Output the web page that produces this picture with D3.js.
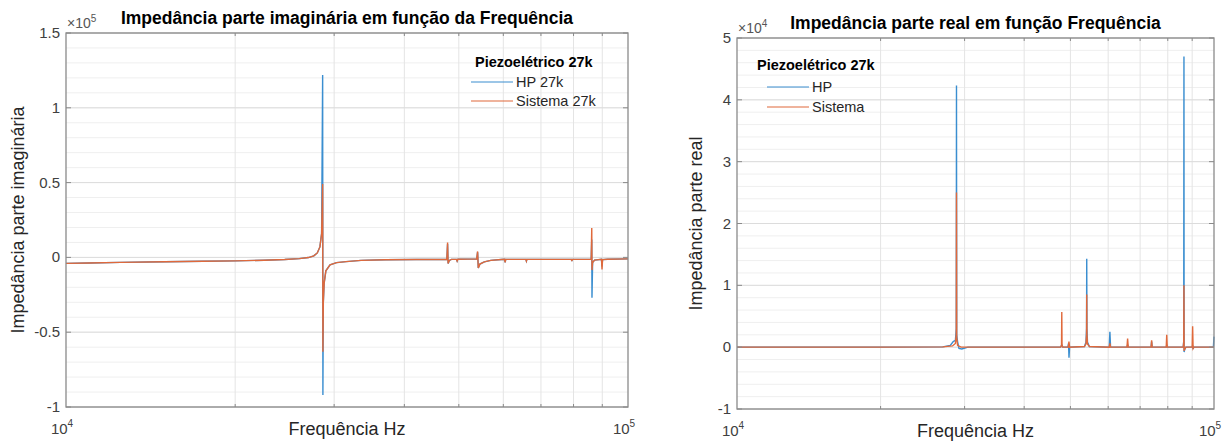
<!DOCTYPE html>
<meta charset="utf-8">
<style>
body { margin: 0; background: #fff; }
text { font-family: "Liberation Sans", Arial, sans-serif; }
</style>
<body>
<script src="https://cdn.jsdelivr.net/npm/d3@7"></script>
<script>

// ---- data (frequency Hz, impedance ohm) ----
var imagHP = [
  [10000,-4000],[11000,-3700],[12500,-3300],[15000,-2900],[17500,-2600],[20000,-2300],
  [22500,-1900],[24500,-1400],[26000,-800],[27000,-100],[27600,1000],[28000,3000],
  [28300,7000],[28500,16000],[28620,122000],[28650,-92000],[28700,-30000],[28800,-17000],
  [29000,-9000],[29500,-5000],[30300,-3500],[31500,-2800],[33500,-2000],[37000,-1600],
  [42000,-1400],[47600,-1300],[47750,9000],[47850,-4000],[48100,-2000],[48500,-1300],
  [49500,-1300],[49650,-2500],[49800,-1200],[53800,-1000],[54000,3500],[54150,-7000],
  [54500,-4500],[55500,-3000],[57000,-2000],[59500,-1400],[60300,-1300],[60450,-3300],
  [60600,-1300],[65800,-1300],[65950,-2500],[66100,-1300],[79300,-1300],[79450,-2500],
  [79600,-1300],[86000,-1300],[86200,12000],[86280,-27000],[86500,-3500],[87200,-1800],
  [89700,-1200],[89900,-6000],[90100,-1500],[92000,-1200],[100000,-1000]
];
var imagSistema = [
  [10000,-4000],[11000,-3700],[12500,-3300],[15000,-2900],[17500,-2600],[20000,-2300],
  [22500,-1900],[24500,-1400],[26000,-800],[27000,-100],[27600,1000],[28000,3000],
  [28300,7000],[28500,16000],[28620,49000],[28650,-63000],[28700,-30000],[28800,-17000],
  [29000,-9000],[29500,-5000],[30300,-3500],[31500,-2800],[33500,-2000],[37000,-1600],
  [42000,-1400],[47600,-1300],[47750,10000],[47850,-4000],[48100,-2000],[48500,-1300],
  [49500,-1300],[49650,-2500],[49800,-1200],[53800,-1000],[54000,4000],[54150,-7000],
  [54500,-4500],[55500,-3000],[57000,-2000],[59500,-1400],[60300,-1300],[60450,-3300],
  [60600,-1300],[65800,-1300],[65950,-2500],[66100,-1300],[79300,-1300],[79450,-2500],
  [79600,-1300],[86000,-1300],[86200,19600],[86280,-8500],[86500,-3500],[87200,-1800],
  [89700,-1200],[89900,-8000],[90100,-1500],[92000,-1200],[100000,-1000]
];
var realHP = [
  [10000,0],[20000,0],[27000,50],[28000,300],[28400,900],[28700,1100],[28820,3000],
  [28850,42300],[28880,2000],[29000,900],[29200,-200],[29600,-300],[30500,0],[47700,0],
  [47960,400],[48200,0],[49400,0],[49550,600],[49660,-1700],[49800,0],[53500,100],
  [53900,800],[54050,3000],[54100,14300],[54150,3000],[54300,800],[54800,100],[60300,0],
  [60500,2500],[60700,0],[65700,0],[65900,400],[66100,0],[73800,0],[74000,900],[74200,0],
  [79400,0],[79600,300],[79800,0],[86200,0],[86400,1000],[86500,47000],[86560,-800],
  [86800,-400],[87300,0],[90000,0],[90200,300],[90400,-300],[90700,0],[99700,0],[100000,1700]
];
var realSistema = [
  [10000,0],[20000,0],[27000,50],[28300,200],[28700,600],[28820,2000],[28850,25000],
  [28880,1500],[29000,300],[29500,0],[47700,0],[47900,300],[47960,5700],[48020,300],
  [48200,0],[49500,0],[49650,900],[49800,0],[53500,100],[53900,500],[54050,2000],
  [54100,8500],[54150,2000],[54300,500],[54800,100],[60300,0],[60500,600],[60700,0],
  [65700,0],[65900,1400],[66100,0],[73800,0],[74000,1100],[74200,0],[79400,0],[79600,2000],
  [79800,0],[86200,0],[86400,800],[86500,10000],[86560,-600],[86800,-300],[87300,0],
  [90000,0],[90200,3400],[90400,-200],[90700,0],[100000,0]
];

var imagTicks = [-1, -0.5, 0, 0.5, 1, 1.5];
var realTicks = [-1, 0, 1, 2, 3, 4, 5];
var imagLegend = ["HP 27k", "Sistema 27k"];
var realLegend = ["HP", "Sistema"];
var legendTitle = "Piezoelétrico 27k";

var blue = "#3a8ed0", orange = "#e0693b";

var svg = d3.select("body").append("svg")
    .attr("width", 1227)
    .attr("height", 441);

function drawPanel(p) {
  var x = d3.scaleLog().domain([1e4, 1e5]).range([p.x0, p.x1]);
  var y = d3.scaleLinear().domain([p.ticks[0] * p.scale, p.ticks[p.ticks.length - 1] * p.scale])
      .range([p.y1, p.y0]);
  var g = svg.append("g");

  // minor grid (y)
  var step = (p.ticks[1] - p.ticks[0]) / 5;
  var minors = d3.range(p.ticks[0], p.ticks[p.ticks.length - 1] + 1e-9, step);
  g.selectAll(".ymin").data(minors).enter().append("line")
      .attr("x1", p.x0).attr("x2", p.x1)
      .attr("y1", d => y(d * p.scale)).attr("y2", d => y(d * p.scale))
      .attr("stroke", "#efefef").attr("stroke-width", 1);
  // x grid (log minors)
  var xt = x.ticks().filter(d => d > 1e4 && d < 1e5);
  g.selectAll(".xg").data(xt).enter().append("line")
      .attr("x1", d => x(d)).attr("x2", d => x(d))
      .attr("y1", p.y0).attr("y2", p.y1)
      .attr("stroke", "#e4e4e4").attr("stroke-width", 1);
  // major y grid
  g.selectAll(".yg").data(p.ticks).enter().append("line")
      .attr("x1", p.x0).attr("x2", p.x1)
      .attr("y1", d => y(d * p.scale)).attr("y2", d => y(d * p.scale))
      .attr("stroke", "#dcdcdc").attr("stroke-width", 1);

  // lines
  var line = d3.line().x(d => x(d[0])).y(d => y(d[1]));
  p.series.forEach(function(s) {
    g.append("path").datum(s.data)
        .attr("fill", "none")
        .attr("stroke", s.color)
        .attr("stroke-width", 1.4)
        .attr("d", line);
  });

  // frame
  g.append("rect")
      .attr("x", p.x0).attr("y", p.y0)
      .attr("width", p.x1 - p.x0).attr("height", p.y1 - p.y0)
      .attr("fill", "none").attr("stroke", "#8a8a8a").attr("stroke-width", 1.3);

  // tick marks inside
  p.ticks.forEach(function(t) {
    var yy = y(t * p.scale);
    g.append("line").attr("x1", p.x0).attr("x2", p.x0 + 5).attr("y1", yy).attr("y2", yy)
        .attr("stroke", "#8a8a8a");
    g.append("line").attr("x1", p.x1).attr("x2", p.x1 - 5).attr("y1", yy).attr("y2", yy)
        .attr("stroke", "#8a8a8a");
  });
  xt.forEach(function(t) {
    g.append("line").attr("x1", x(t)).attr("x2", x(t)).attr("y1", p.y1).attr("y2", p.y1 - 3)
        .attr("stroke", "#8a8a8a");
    g.append("line").attr("x1", x(t)).attr("x2", x(t)).attr("y1", p.y0).attr("y2", p.y0 + 3)
        .attr("stroke", "#8a8a8a");
  });

  // y tick labels
  g.selectAll(".yl").data(p.ticks).enter().append("text")
      .attr("x", p.x0 - 6).attr("y", d => y(d * p.scale) + 5)
      .attr("text-anchor", "end")
      .attr("font-size", 15).attr("fill", "#404040")
      .text(d => d);

  // x tick labels 10^4, 10^5
  [[1e4, "4"], [1e5, "5"]].forEach(function(t) {
    var tx = g.append("text")
        .attr("x", x(t[0]) - 4).attr("y", p.y1 + 27)
        .attr("text-anchor", "middle")
        .attr("font-size", 15).attr("fill", "#404040");
    tx.append("tspan").text("10");
    tx.append("tspan").attr("font-size", 10).attr("dy", -7).text(t[1]);
  });

  // exponent
  var ex = g.append("text").attr("x", p.x0 + 1).attr("y", p.y0 - 5)
      .attr("font-size", 14).attr("fill", "#555");
  ex.append("tspan").text("\u00d710");
  ex.append("tspan").attr("font-size", 10).attr("dy", -6).text(p.exp);

  // title
  g.append("text")
      .attr("x", (p.x0 + p.x1) / 2).attr("y", p.y0 - 9)
      .attr("text-anchor", "middle")
      .attr("font-size", 17.5).attr("font-weight", "bold").attr("fill", "#000")
      .text(p.title);

  // axis labels
  g.append("text")
      .attr("x", (p.x0 + p.x1) / 2).attr("y", p.y1 + 28)
      .attr("text-anchor", "middle")
      .attr("font-size", 18).attr("fill", "#262626")
      .text("Frequência Hz");
  g.append("text")
      .attr("transform", "translate(" + p.ylx + "," + ((p.y0 + p.y1) / 2) + ") rotate(-90)")
      .attr("text-anchor", "middle")
      .attr("font-size", 18).attr("fill", "#262626")
      .text(p.ylabel);

  // legend
  var L = p.legend;
  g.append("text").attr("x", L.x).attr("y", L.y)
      .attr("font-size", 14.5).attr("font-weight", "bold").attr("fill", "#000")
      .text(legendTitle);
  L.labels.forEach(function(lab, i) {
    var ly = L.row0 + i * L.gap;
    g.append("line").attr("x1", L.lx).attr("x2", L.lx + 42)
        .attr("y1", ly).attr("y2", ly)
        .attr("stroke", p.series[i].color).attr("stroke-width", 1.2);
    g.append("text").attr("x", L.lx + 45).attr("y", ly + 5)
        .attr("font-size", 14.5).attr("fill", "#262626")
        .text(lab);
  });
}

drawPanel({
  x0: 66, x1: 628, y0: 33, y1: 407, ylx: 24,
  ticks: imagTicks, scale: 1e5, exp: "5",
  title: "Impedância parte imaginária em função da Frequência",
  ylabel: "Impedância parte imaginária",
  series: [{data: imagHP, color: blue}, {data: imagSistema, color: orange}],
  legend: {x: 475, y: 67, lx: 471, row0: 82, gap: 19, labels: imagLegend}
});

drawPanel({
  x0: 737, x1: 1214, y0: 38, y1: 409, ylx: 702,
  ticks: realTicks, scale: 1e4, exp: "4",
  title: "Impedância parte real em função Frequência",
  ylabel: "Impedância parte real",
  series: [{data: realHP, color: blue}, {data: realSistema, color: orange}],
  legend: {x: 757, y: 70, lx: 767, row0: 87, gap: 20, labels: realLegend}
});

</script>
</body>
</html>
